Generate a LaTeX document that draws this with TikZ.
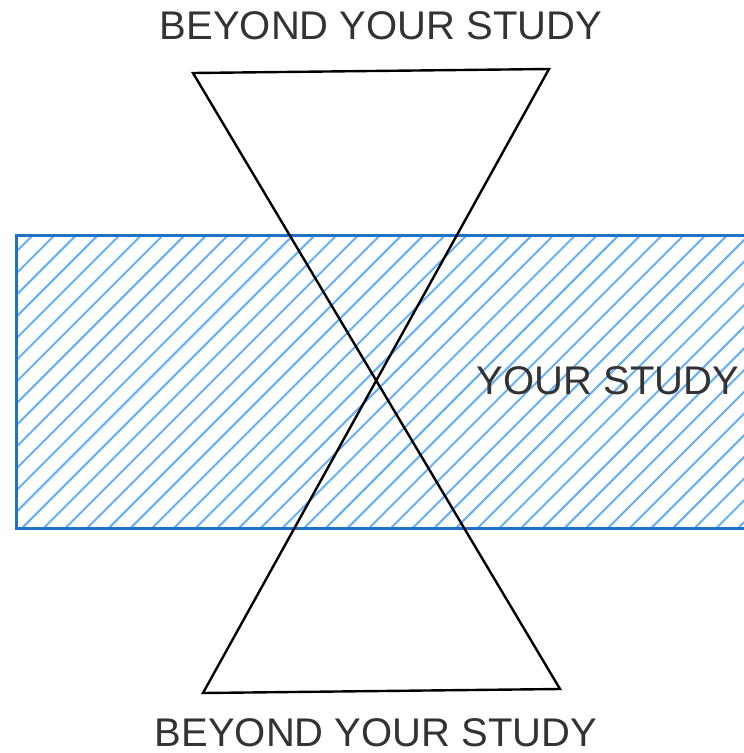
\documentclass[tikz,border=0pt]{standalone}
\usepackage{fontspec}
\setmainfont{Liberation Sans}
\definecolor{boxblue}{HTML}{1F72C8}
\definecolor{hatchblue}{HTML}{66B0F5}
\definecolor{txtgray}{HTML}{333333}
\tikzset{
  lbl/.style={text=txtgray, font=\fontsize{40}{48}\selectfont, inner sep=0pt, anchor=base},
  hatchline/.style={draw=hatchblue, line width=2pt},
  boxline/.style={draw=boxblue, line width=3pt},
  glass/.style={draw=black, line width=2.4pt, line join=miter}
}
\begin{document}
\begin{tikzpicture}[x=1pt,y=-1pt]
\useasboundingbox (0,0) rectangle (744,753);
% study band
\coordinate (bandtl) at (16,235);
\coordinate (bandbr) at (760,528);
\begin{scope}
  \clip (bandtl) rectangle (bandbr);
  \foreach \k in {-2,...,48} {
    \pgfmathsetmacro{\c}{268+21.7*\k}
    \draw[hatchline] (\c-225,225) -- (\c-540,540);
  }
\end{scope}
\draw[boxline] (760,235) -- (16,235) -- (16,528) -- (760,528);
% hourglass
\coordinate (tl) at (193,73);
\coordinate (tr) at (549,69);
\coordinate (bl) at (203,693);
\coordinate (br) at (560,689);
\draw[glass] (tl) -- (tr) -- (bl) -- (br) -- cycle;
% labels
\node[lbl] (top) at (381,39) {BEYOND YOUR STUDY};
\node[lbl] (bottom) at (376,746) {BEYOND YOUR STUDY};
\node[lbl] (study) at (608,394) {YOUR STUDY};
\end{tikzpicture}
\end{document}
